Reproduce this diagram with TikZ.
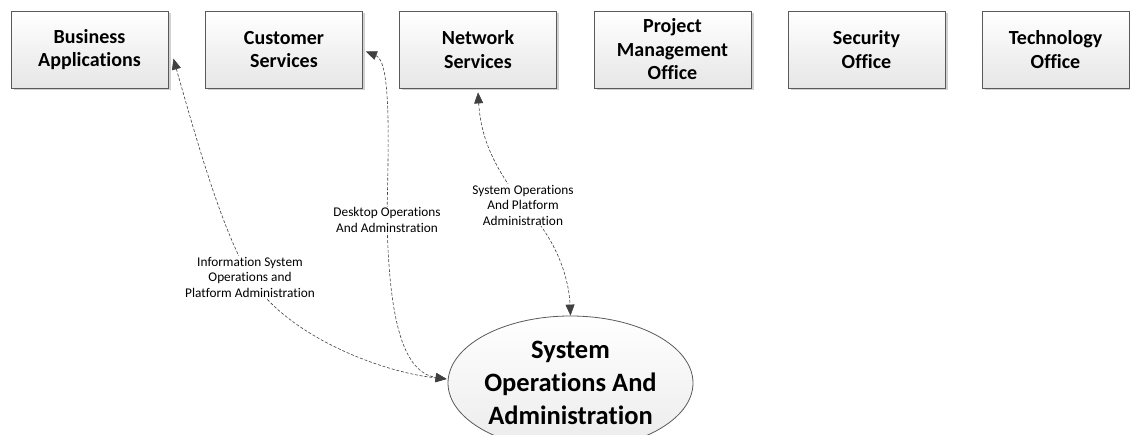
\documentclass[tikz,border=0pt]{standalone}
\usepackage{fontspec}
\setmainfont{Carlito}[Ligatures={NoCommon}]
\usetikzlibrary{arrows.meta,shapes.geometric,shadows}
\definecolor{edgegray}{HTML}{5A5A5A}
\definecolor{linegray}{HTML}{404040}
\definecolor{fillbot}{HTML}{E6E6E6}
\tikzset{
  unitbox/.style={rectangle, draw=edgegray, line width=0.8pt,
    top color=white, bottom color=fillbot,
    minimum width=157pt, minimum height=77pt, inner sep=0pt,
    align=center, font=\fontsize{20}{23.5}\selectfont\bfseries,
    drop shadow={shadow xshift=2.5pt, shadow yshift=-2.5pt, fill=gray!60, opacity=0.6}},
  hubell/.style={ellipse, draw=edgegray, line width=0.8pt,
    top color=white, bottom color=fillbot!80,
    minimum width=245pt, minimum height=134pt, inner sep=0pt,
    align=center, font=\fontsize{26.5}{33}\selectfont\bfseries},
  lbl/.style={fill=white, inner sep=1pt, align=center,
    font=\fontsize{13.3}{15.5}\selectfont},
  conn/.style={draw=linegray, line width=0.6pt, dash pattern=on 3pt off 1.8pt,
    {Triangle[length=11pt,width=9pt]}-{Triangle[length=11pt,width=9pt]}},
}
\begin{document}
\begin{tikzpicture}[x=1pt,y=-1pt]
\useasboundingbox (0,0) rectangle (1130,435);
\node[unitbox] (ba) at (89.5,49.5) {Business\\Applications};
\node[unitbox] (cs) at (284,49.5) {Customer\\Services};
\node[unitbox] (ns) at (478,49.5) {Network\\Services};
\node[unitbox] (pmo) at (672.5,49.5) {Project\\Management\\Office};
\node[unitbox] (so) at (866.5,49.5) {Security\\Office};
\node[unitbox, minimum width=147pt] (to) at (1055.5,49.5) {Technology\\Office};

\node[hubell] (soa) at (570.5,383) {System\\Operations And\\Administration};

\coordinate (c1) at (250,277);
\coordinate (c2) at (387,220);
\coordinate (c3) at (523,205);

\coordinate (tba) at ([xshift=5pt,yshift=-9pt]ba.east);
\coordinate (tcs) at ([xshift=3pt,yshift=-2pt]cs.east);
\coordinate (tns) at ([yshift=-4pt]ns.south);
\coordinate (te) at ([xshift=-1pt,yshift=4pt]soa.west);

\draw[conn] (tba) .. controls (198,145) and (222,230) .. (c1)
   .. controls (285,335) and (380,372) .. (te);
\draw[conn] (tcs) .. controls (392,62) and (388,150) .. (c2)
   .. controls (389,310) and (400,372) .. (te);
\draw[conn] (tns) .. controls (481,140) and (495,168) .. (c3)
   .. controls (558,240) and (569,280) .. (soa.north);

\node[lbl] (l1) at (c1) {Information System\\Operations and\\Platform Administration};
\node[lbl] (l2) at (c2) {Desktop Operations\\And Adminstration};
\node[lbl] (l3) at (c3) {System Operations\\And Platform\\Administration};
\end{tikzpicture}
\end{document}
